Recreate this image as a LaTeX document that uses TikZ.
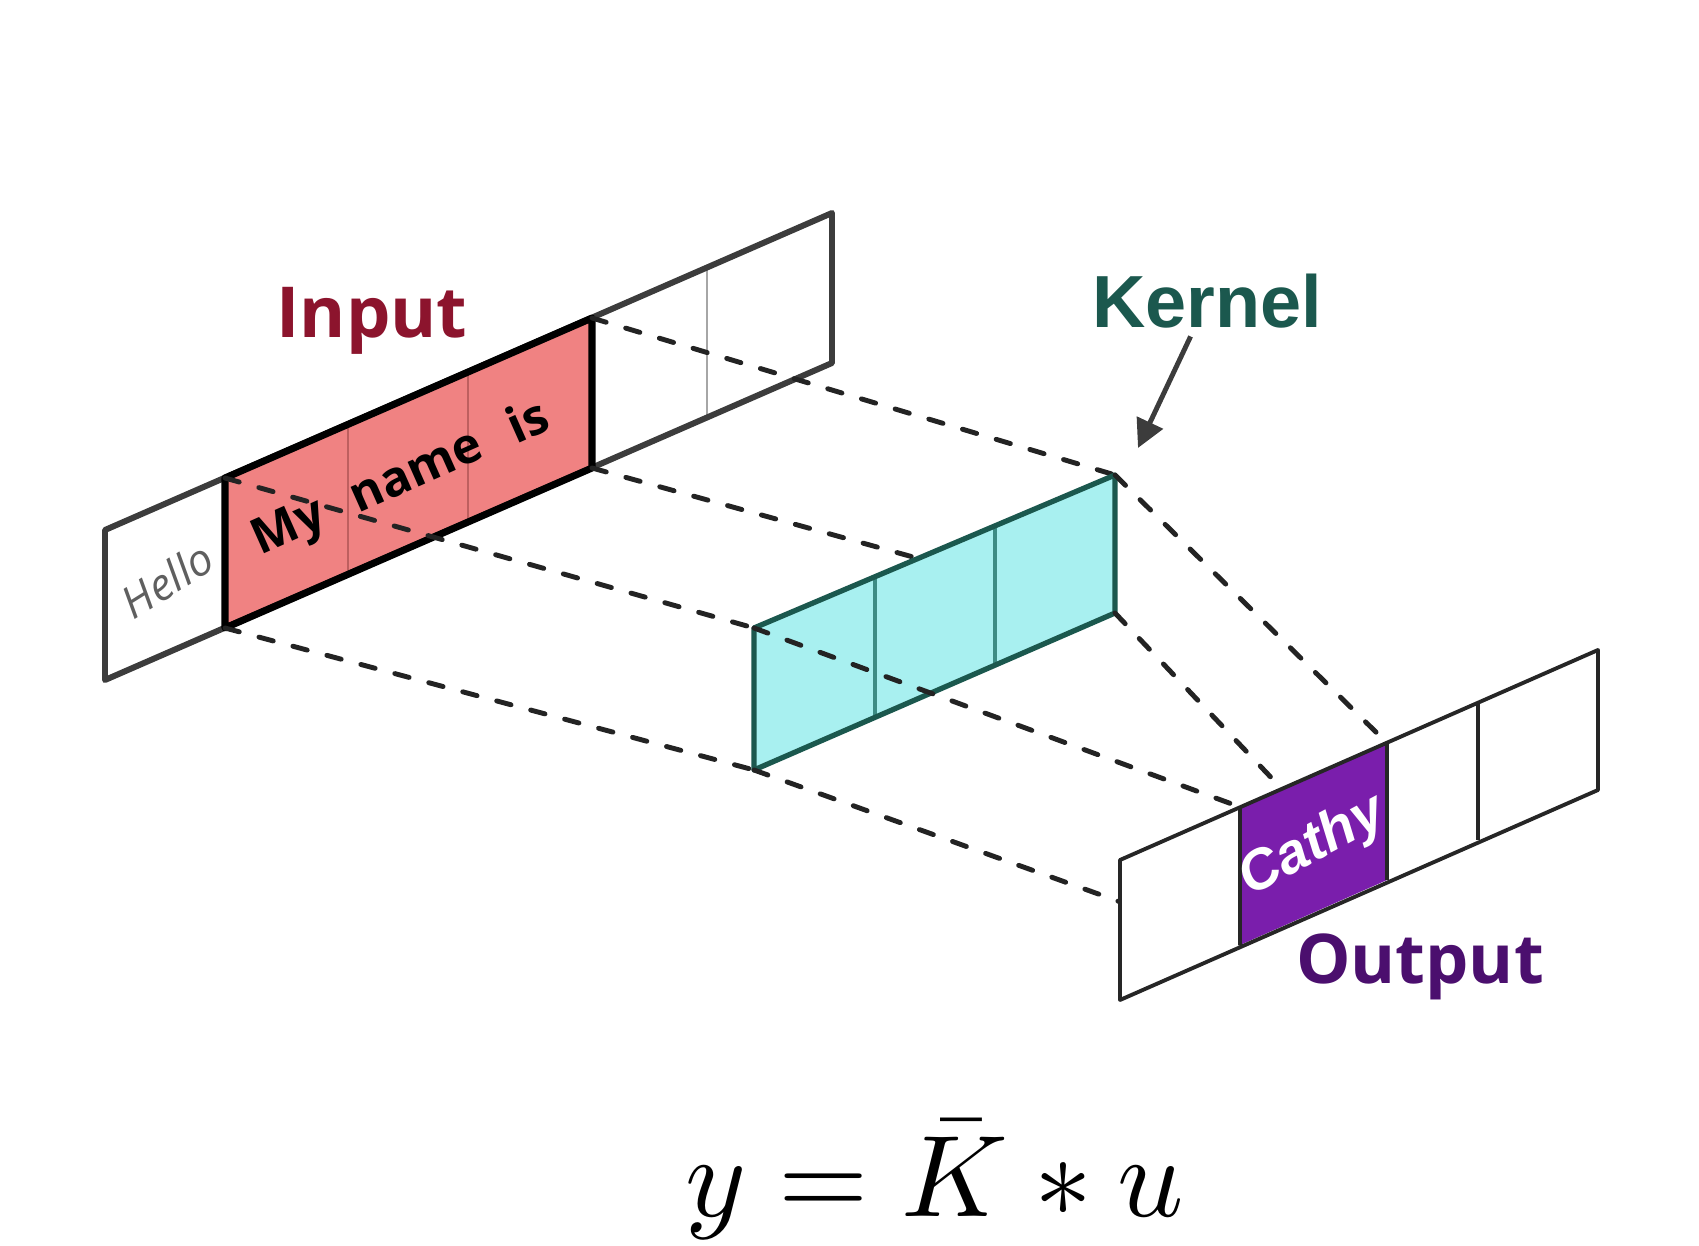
\documentclass[tikz,border=0pt]{standalone}
\usepackage{fontspec}
\setsansfont{Open Sans}
\newfontfamily\arialfont{Liberation Sans}
\usetikzlibrary{arrows.meta}
\definecolor{inputred}{RGB}{140,20,45}
\definecolor{cellred}{RGB}{240,130,130}
\definecolor{reddiv}{RGB}{190,95,95}
\definecolor{kerneldark}{RGB}{27,88,78}
\definecolor{kernelmid}{RGB}{60,140,132}
\definecolor{cellteal}{RGB}{168,240,240}
\definecolor{outpurple}{RGB}{75,15,110}
\definecolor{cellpurple}{RGB}{122,30,172}
\definecolor{edgegray}{RGB}{60,60,60}
\definecolor{dashgray}{RGB}{35,35,35}
\definecolor{hellogray}{RGB}{95,95,95}

\begin{document}
\begin{tikzpicture}[x=0.01cm, y=-0.01cm,
    rim/.style={draw=edgegray, line width=1.7pt, line join=round},
    divider/.style={line width=0.6pt},
    proj/.style={draw=dashgray, line width=1.4pt, line cap=round, dash pattern=on 4.2pt off 5.8pt},
    word/.style={font=\sffamily\bfseries\fontsize{14}{16}\selectfont, rotate=24},
    lbl/.style={anchor=base, inner sep=2pt},
    arr/.style={-{Triangle[length=8pt,width=8pt]}, line width=1.4pt, draw=edgegray, fill=edgegray}]
  \useasboundingbox (0,0) rectangle (1699,1246);

  % input strip corners
  \coordinate (i0t) at (105,530); \coordinate (i0b) at (105,680);
  \coordinate (i1t) at (225,478); \coordinate (i1b) at (225,628);
  \coordinate (i2t) at (348,424); \coordinate (i2b) at (348,574);
  \coordinate (i3t) at (468,372); \coordinate (i3b) at (468,522);
  \coordinate (i4t) at (592,318); \coordinate (i4b) at (592,468);
  \coordinate (i5t) at (707,268); \coordinate (i5b) at (707,418);
  \coordinate (i6t) at (832,213); \coordinate (i6b) at (832,363);
  % kernel corners
  \coordinate (k0t) at (754,628);  \coordinate (k0b) at (754,770);
  \coordinate (k1t) at (875,576);  \coordinate (k1b) at (875,717);
  \coordinate (k2t) at (995,526);  \coordinate (k2b) at (995,665);
  \coordinate (k3t) at (1115,475); \coordinate (k3b) at (1115,613);
  % output corners
  \coordinate (o0t) at (1120,860); \coordinate (o0b) at (1120,1000);
  \coordinate (o1t) at (1240,807); \coordinate (o1b) at (1240,945);
  \coordinate (o2t) at (1387,743); \coordinate (o2b) at (1387,880);
  \coordinate (o3t) at (1478,703); \coordinate (o3b) at (1478,840);
  \coordinate (o4t) at (1598,650); \coordinate (o4b) at (1598,790);
  \coordinate (cmid) at (1282,789);

  % input
  \fill[cellred] (i1t) -- (i4t) -- (i4b) -- (i1b) -- cycle;
  \draw[divider, draw=reddiv] (i2t) -- (i2b) (i3t) -- (i3b);
  \draw[divider, draw=gray!70, line width=0.8pt] (i5t) -- (i5b);
  \draw[rim] (i0t) -- (i6t) -- (i6b) -- (i0b) -- cycle;
  \draw[rim, draw=black, line width=2pt] (i1t) -- (i4t) -- (i4b) -- (i1b) -- cycle;

  \draw[proj] (i1t) -- (k0t);
  \draw[proj] (i1b) -- (k0b);
  \draw[proj] (i4t) -- (k3t);
  \draw[proj] (i4b) -- (k3b);

  % kernel
  \fill[cellteal] (k0t) -- (k3t) -- (k3b) -- (k0b) -- cycle;
  \draw[divider, draw=kernelmid, line width=1pt] (k1t) -- (k1b) (k2t) -- (k2b);
  \draw[rim, draw=kerneldark, line width=1.5pt] (k0t) -- (k3t) -- (k3b) -- (k0b) -- cycle;

  \draw[proj] (k0t) -- (o1t);
  \draw[proj] (k0b) -- (o1b);
  \draw[proj] (k3t) -- (o2t);
  \draw[proj] (k3b) -- (cmid);

  % output
  \fill[white] (o0t) -- (o4t) -- (o4b) -- (o0b) -- cycle;
  \fill[cellpurple] (o1t) -- (o2t) -- (o2b) -- (o1b) -- cycle;
  \draw[rim, draw=black!85, line width=1.1pt] (o0t) -- (o4t) -- (o4b) -- (o0b) -- cycle
    (o1t) -- (o1b) (o2t) -- (o2b) (o3t) -- (o3b);

  \node[font=\sffamily\itshape\fontsize{12.5}{14}\selectfont, text=hellogray, rotate=32] (hello) at (167,580) {Hello};
  \node[word] (my) at (290,530) {My};
  \node[word] (name) at (417,473) {name};
  \node[word] (is) at (527,420) {is};
  \node[font=\arialfont\bfseries\itshape\fontsize{16}{18}\selectfont, text=white, rotate=28] (cathy) at (1313,847) {Cathy};

  \node[lbl, font=\sffamily\bfseries\fontsize{20}{24}\selectfont, text=inputred] (input) at (372,338) {Input};
  \node[lbl, font=\arialfont\bfseries\fontsize{21}{25}\selectfont, text=kerneldark] (kernel) at (1207,328) {Kernel};
  \node[lbl, font=\sffamily\bfseries\fontsize{19.5}{23}\selectfont, text=outpurple] (output) at (1420,983) {Output};
  \coordinate (ktip) at (1138,448);
  \draw[arr] (kernel) -- (ktip);

  \node[anchor=base, scale=3.3, inner sep=0pt] (eq) at (935,1216) {$y=\bar{K}*u$};
\end{tikzpicture}
\end{document}
